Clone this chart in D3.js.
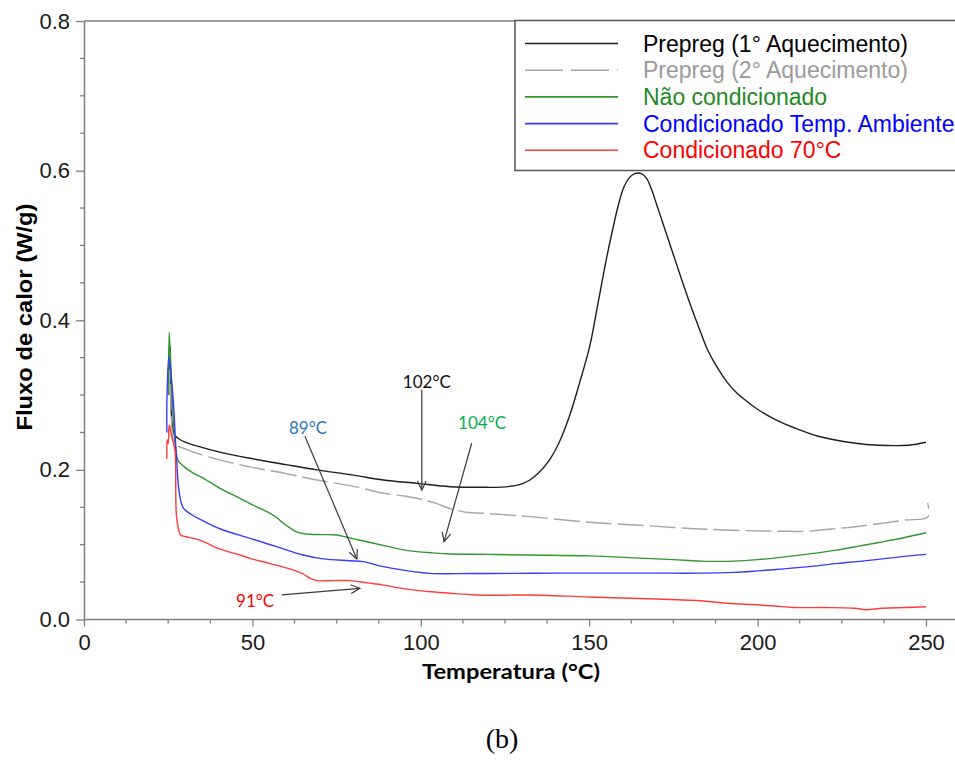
<!DOCTYPE html>
<html>
<head>
<meta charset="utf-8">
<script src="https://cdn.jsdelivr.net/npm/d3@7"></script>
<style>
  html, body { margin: 0; padding: 0; background: #fff; }
  svg { display: block; }
</style>
</head>
<body>
<svg id="chart" width="955" height="760"></svg>
<script>
// DSC curves: temperature (°C) vs heat flow (W/g)

const prepreg1T = [25.3, 25.6, 25.7, 26.2, 27, 28, 30, 35, 40, 49.3, 60, 69.2, 80, 88.9, 98.8, 108.7, 118.6, 124, 128, 130.4, 132.4, 135, 138, 141, 144, 147, 150.2, 152.5, 155.2, 157, 158.6, 160.3, 162, 163.5, 165.5, 167, 168.5, 170, 172, 174, 176, 178, 180.5, 183, 185, 188, 191, 194, 197, 200, 205, 211, 218, 228.6, 236, 244.8, 250];
const prepreg1V = [0.30, 0.365, 0.34, 0.26, 0.246, 0.242, 0.237, 0.230, 0.224, 0.2155, 0.207, 0.200, 0.193, 0.1865, 0.182, 0.1775, 0.1767, 0.177, 0.179, 0.182, 0.1865, 0.196, 0.212, 0.236, 0.270, 0.314, 0.366, 0.420, 0.484, 0.522, 0.553, 0.578, 0.591, 0.596, 0.596, 0.590, 0.575, 0.555, 0.528, 0.501, 0.474, 0.447, 0.415, 0.385, 0.362, 0.337, 0.317, 0.302, 0.291, 0.281, 0.268, 0.256, 0.245, 0.236, 0.233, 0.233, 0.237];

const prepreg2T = [25.3, 25.6, 26.2, 27, 30, 35, 40.5, 49.3, 60, 69.2, 80, 88.9, 95, 98.8, 101.5, 104.8, 107.5, 110.7, 114, 118.6, 125, 132.4, 145, 153, 165, 175, 183, 195, 205.6, 215, 222, 229, 236, 244, 250.5, 250.5];
const prepreg2V = [0.30, 0.35, 0.25, 0.235, 0.228, 0.220, 0.213, 0.204, 0.195, 0.1865, 0.178, 0.1687, 0.165, 0.162, 0.159, 0.155, 0.150, 0.146, 0.143, 0.142, 0.140, 0.1375, 0.132, 0.129, 0.126, 0.123, 0.121, 0.119, 0.118, 0.118, 0.121, 0.124, 0.128, 0.133, 0.137, 0.156];

const naoCondT = [25.0, 25.3, 25.8, 26.5, 27.3, 28, 29.5, 32, 35, 40.5, 45, 49.3, 52.5, 55.2, 57.3, 59.2, 61, 63.1, 65, 67.1, 71, 75, 78, 81.9, 86, 90.8, 95, 98.8, 103.5, 108.7, 120, 132.4, 150, 165, 175, 183, 193, 200, 208.6, 216, 223.8, 230, 236, 243, 250];
const naoCondV = [0.30, 0.384, 0.33, 0.27, 0.225, 0.212, 0.205, 0.197, 0.190, 0.175, 0.165, 0.155, 0.148, 0.142, 0.136, 0.1286, 0.123, 0.117, 0.115, 0.114, 0.1135, 0.113, 0.110, 0.106, 0.102, 0.097, 0.093, 0.0907, 0.089, 0.0876, 0.087, 0.0862, 0.085, 0.082, 0.080, 0.078, 0.078, 0.080, 0.084, 0.088, 0.093, 0.098, 0.103, 0.109, 0.116];

const condAmbT = [24.6, 24.6, 25.2, 25.8, 26.5, 27.5, 28.3, 29.5, 32, 34.5, 40.5, 49.3, 57.2, 65.1, 71, 78.9, 82.9, 88.9, 94.8, 102.7, 115, 128.5, 140, 155, 170, 183, 193, 200, 208.6, 216, 223.8, 231, 239, 245, 250];
const condAmbV = [0.25, 0.29, 0.351, 0.33, 0.293, 0.213, 0.169, 0.149, 0.140, 0.134, 0.121, 0.1085, 0.0973, 0.0862, 0.081, 0.0786, 0.0773, 0.0706, 0.066, 0.0617, 0.0615, 0.0617, 0.062, 0.062, 0.062, 0.062, 0.063, 0.065, 0.068, 0.071, 0.075, 0.078, 0.082, 0.085, 0.087];

const cond70T = [24.6, 24.7, 25.0, 25.3, 26.0, 27.0, 27.5, 28.7, 30, 34.4, 40.4, 45, 49.3, 55, 62.2, 65, 67.2, 69.2, 74, 79.1, 84, 88.9, 94, 98.8, 103, 108.7, 116.6, 125, 132.4, 150, 165, 183, 190, 198.5, 205, 210.6, 220, 228.9, 232, 237, 244, 250];
const cond70V = [0.215, 0.24, 0.235, 0.26, 0.245, 0.226, 0.137, 0.113, 0.111, 0.106, 0.094, 0.088, 0.0818, 0.075, 0.066, 0.061, 0.055, 0.052, 0.052, 0.052, 0.049, 0.046, 0.042, 0.039, 0.037, 0.035, 0.0328, 0.0325, 0.0328, 0.030, 0.028, 0.025, 0.022, 0.020, 0.018, 0.016, 0.016, 0.015, 0.013, 0.015, 0.016, 0.017];

const seriesNames = ["Prepreg (1° Aquecimento)", "Prepreg (2° Aquecimento)", "Não condicionado", "Condicionado Temp. Ambiente", "Condicionado 70°C"];
const seriesTemps = [prepreg1T, prepreg2T, naoCondT, condAmbT, cond70T];
const seriesValues = [prepreg1V, prepreg2V, naoCondV, condAmbV, cond70V];

const xTickValues = [0, 50, 100, 150, 200, 250];
const yTickValues = [0.0, 0.2, 0.4, 0.6, 0.8];

// Transition temperatures marked on the curves
const annotationLabels = ["102°C", "104°C", "89°C", "91°C"];
const annotationTextT = [101.8, 118.2, 66.5, 50.8];
const annotationTextV = [0.318, 0.263, 0.256, 0.026];
const annotationFromT = [100.3, 115.1, 65.6, 58.7];
const annotationFromV = [0.307, 0.2356, 0.245, 0.0328];
const annotationToT = [100.3, 106.9, 81.0, 81.9];
const annotationToV = [0.173, 0.104, 0.081, 0.0417];

// Styling
const lineColors = ["#1e1e1e", "#a6a6a6", "#2f972f", "#3a3aff", "#ff3c3c"];
const legendTextColors = ["#000000", "#9a9a9a", "#1f8a1f", "#0000ff", "#ff0000"];
const annotationColors = ["#111111", "#00b050", "#2e75b6", "#ff0000"];

const svg = d3.select("#chart");
const mLeft = 84, mTop = 21, mBottom = 619.5;
const pxPerDeg = 3.368;

const x = d3.scaleLinear().domain([0, 260]).range([mLeft, mLeft + 260 * pxPerDeg]);
const y = d3.scaleLinear().domain([0, 0.8]).range([mBottom, mTop]);

const axisColor = "#7f7f7f";

// top frame line
svg.append("line")
  .attr("x1", mLeft).attr("x2", 960)
  .attr("y1", y(0.8)).attr("y2", y(0.8))
  .attr("stroke", axisColor).attr("stroke-width", 1.5);

// minor ticks
const xMinor = d3.range(0, 260.1, 12.5).filter(t => t % 50 !== 0);
const yMinor = d3.range(0, 0.801, 0.05).filter(v => Math.abs(v * 5 - Math.round(v * 5)) > 1e-6);

const gx = svg.append("g").attr("transform", `translate(0,${mBottom})`);
gx.call(d3.axisBottom(x).tickValues(xTickValues).tickFormat(d3.format("d")).tickSize(7).tickPadding(8).tickSizeOuter(0));
gx.selectAll(".minor").data(xMinor).enter().append("line")
  .attr("x1", d => x(d)).attr("x2", d => x(d)).attr("y1", 0).attr("y2", 4)
  .attr("stroke", axisColor).attr("stroke-width", 1.3);

const gy = svg.append("g").attr("transform", `translate(${mLeft},0)`);
gy.call(d3.axisLeft(y).tickValues(yTickValues).tickFormat(d3.format(".1f")).tickSize(8).tickPadding(6).tickSizeOuter(0));
gy.selectAll(".minor").data(yMinor).enter().append("line")
  .attr("x1", 0).attr("x2", -4).attr("y1", d => y(d)).attr("y2", d => y(d))
  .attr("stroke", axisColor).attr("stroke-width", 1.3);

[gx, gy].forEach(g => {
  g.select(".domain").attr("stroke", axisColor).attr("stroke-width", 1.5);
  g.selectAll(".tick line").attr("stroke", axisColor).attr("stroke-width", 1.3);
  g.selectAll(".tick text")
    .attr("font-family", "'Liberation Sans', Arial, sans-serif")
    .attr("font-size", 22).attr("fill", "#1a1a1a");
});
gx.select(".domain").attr("d", `M${mLeft},0H960`);

// axis titles
svg.append("text")
  .attr("x", 511).attr("y", 679)
  .attr("text-anchor", "middle")
  .attr("font-family", "Lato, 'Open Sans', sans-serif")
  .attr("font-weight", "bold").attr("font-size", 21)
  .attr("textLength", 178).attr("lengthAdjust", "spacingAndGlyphs")
  .text("Temperatura (°C)");

svg.append("text")
  .attr("transform", "translate(32,317) rotate(-90)")
  .attr("text-anchor", "middle")
  .attr("font-family", "'Liberation Sans', Arial, sans-serif")
  .attr("font-weight", "bold").attr("font-size", 22)
  .attr("textLength", 227).attr("lengthAdjust", "spacingAndGlyphs")
  .text("Fluxo de calor (W/g)");

// curves
const line = d3.line()
  .x(d => x(d[0]))
  .y(d => y(d[1]))
  .curve(d3.curveCatmullRom.alpha(0.5));

const plot = svg.append("g");
seriesTemps.forEach((temps, i) => {
  const pts = temps.map((t, j) => [t, seriesValues[i][j]]);
  plot.append("path")
    .attr("d", line(pts))
    .attr("fill", "none")
    .attr("stroke", lineColors[i])
    .attr("stroke-width", 1.4)
    .attr("stroke-dasharray", i === 1 ? "26,6" : null)
    .attr("stroke-linejoin", "round");
});

// annotations with open arrowheads
const ann = svg.append("g");
annotationLabels.forEach((label, i) => {
  const x1 = x(annotationFromT[i]), y1 = y(annotationFromV[i]);
  const x2 = x(annotationToT[i]), y2 = y(annotationToV[i]);
  ann.append("line")
    .attr("x1", x1).attr("y1", y1).attr("x2", x2).attr("y2", y2)
    .attr("stroke", "#3a3a3a").attr("stroke-width", 1.2);
  const ang = Math.atan2(y2 - y1, x2 - x1);
  const len = 10, spread = 0.45;
  const p = [ang + Math.PI - spread, ang + Math.PI + spread].map(a => [x2 + len * Math.cos(a), y2 + len * Math.sin(a)]);
  ann.append("path")
    .attr("d", `M${p[0][0]},${p[0][1]}L${x2},${y2}L${p[1][0]},${p[1][1]}`)
    .attr("fill", "none").attr("stroke", "#3a3a3a").attr("stroke-width", 1.2);
  ann.append("text")
    .attr("x", x(annotationTextT[i])).attr("y", y(annotationTextV[i]))
    .attr("text-anchor", "middle").attr("dominant-baseline", "central")
    .attr("font-family", "Lato, 'Open Sans', sans-serif")
    .attr("font-size", 17)
    .attr("fill", annotationColors[i])
    .text(label);
});

// legend
const lg = svg.append("g");
lg.append("rect")
  .attr("x", 515).attr("y", 20.5).attr("width", 460).attr("height", 150)
  .attr("fill", "#fff").attr("stroke", "#555").attr("stroke-width", 1.5);
seriesNames.forEach((name, i) => {
  const cy = 43.5 + i * 26.7;
  lg.append("line")
    .attr("x1", 525).attr("x2", 618).attr("y1", cy).attr("y2", cy)
    .attr("stroke", lineColors[i]).attr("stroke-width", 1.6)
    .attr("stroke-dasharray", i === 1 ? "38,8" : null);
  lg.append("text")
    .attr("x", 643).attr("y", cy)
    .attr("dominant-baseline", "central")
    .attr("font-family", "'Liberation Sans', Arial, sans-serif")
    .attr("font-size", 23)
    .attr("fill", legendTextColors[i])
    .text(name);
});

// panel label
svg.append("text")
  .attr("x", 502).attr("y", 748)
  .attr("text-anchor", "middle")
  .attr("font-family", "'Liberation Serif', 'Times New Roman', serif")
  .attr("font-size", 28)
  .text("(b)");
</script>
</body>
</html>
